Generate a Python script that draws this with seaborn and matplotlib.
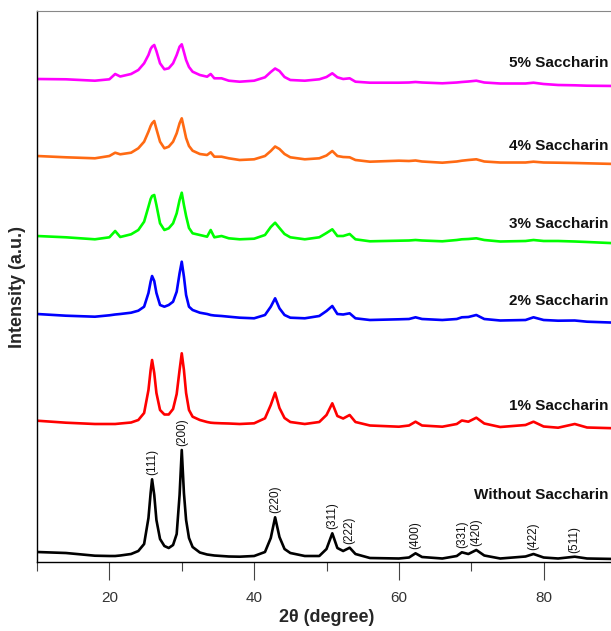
import numpy as np
import pandas as pd
import matplotlib
matplotlib.use("Agg")
import matplotlib.pyplot as plt
from matplotlib.ticker import MultipleLocator
import seaborn as sns

# 2theta grid (degree) shared by all patterns, intensities in a.u. (already stacked)
two_theta = [10, 14, 18, 20, 20.8, 21.5, 23, 24, 24.8, 25.4, 25.7, 25.9, 26.2, 26.5, 27,
             27.6, 28.2, 28.8, 29.3, 29.7, 30.0, 30.3, 30.6, 31.0, 31.5, 32.5, 33.5, 34.0,
             34.5, 35.5, 36.5, 38, 40, 41.5, 42.3, 42.9, 43.5, 44.2, 45, 47, 49, 50.0,
             50.8, 51.5, 52.3, 53.2, 54, 56, 60, 61.4, 62.3, 63.2, 66, 68.0, 68.7, 69.6,
             70.7, 71.8, 74, 77.5, 78.6, 80, 82, 84.3, 86, 90]

i_without = [10, 9, 6.3, 6, 6, 6.5, 8, 11, 18, 44, 69, 82.7, 67, 42, 23,
             16, 14, 17, 28, 67, 112, 69, 42, 24, 15, 9.5, 7.5, 7,
             6.5, 6, 5.5, 5.3, 6, 10, 24, 44.7, 25, 13, 9, 6, 6, 13,
             28.7, 14, 11, 14.3, 8, 4, 3.5, 4.5, 8.7, 5, 3.5, 6, 9.7, 8,
             12, 6.5, 3.5, 5.5, 8, 4.5, 3.5, 5.3, 3.5, 3]

i_1pct = [141.3, 139.3, 138, 138, 138, 138.5, 139.5, 142, 149, 172, 192, 202, 189, 169, 152,
          147.5, 147.5, 153, 168, 192, 208.7, 192, 169, 152, 145.3, 142, 140, 139.3,
          139, 138.7, 138.5, 138, 138.7, 143.7, 157, 169.3, 154, 144, 140, 138, 140, 147,
          158.7, 146, 143.5, 147, 140, 136.5, 135.3, 136.5, 140.3, 136.5, 135.3, 138, 141.5, 140.3,
          144.3, 138.5, 135, 137, 140.3, 135.5, 134.3, 138, 134.5, 133.7]

i_2pct = [248, 246.3, 245.3, 246.7, 247.5, 248, 249.3, 251.3, 255.3, 269, 280.3, 286, 281, 269, 257,
          255.3, 257, 260.3, 270.3, 288.7, 300.3, 285.3, 267, 255.3, 252, 249.3, 248, 247,
          246.5, 246, 245.3, 244.3, 243.7, 247, 255.3, 263.7, 253.7, 247, 244.3, 243.7, 246, 251,
          256, 248, 247.5, 248.7, 243.7, 242, 242.7, 243, 244.7, 243, 242, 243, 244.7, 245,
          247, 243, 241.5, 242, 244.7, 242, 241.3, 241.5, 240.3, 239.3]

i_3pct = [326, 324.7, 322.7, 324.7, 331, 325, 327.7, 332, 340.3, 355.3, 363, 366, 367, 357, 338.7,
          332, 333.7, 338.7, 348.7, 362, 369.3, 357, 346, 334, 328.7, 327, 325.3, 332,
          324.7, 326, 323.7, 322.7, 323.3, 327, 335, 339.3, 334, 328, 324.7, 322.7, 324.7, 329,
          332.7, 326, 326, 328, 322.7, 320.7, 321.3, 321.5, 322, 321.5, 320.7, 322, 322.7, 323,
          323.7, 322, 320.5, 321, 322, 321, 321, 320.5, 320, 318.7]

i_4pct = [406, 404.7, 403.7, 406, 409.3, 407.7, 409.3, 413.7, 420.3, 430.3, 436, 438.7, 441, 433, 420.3,
          413.7, 415.3, 420.3, 428.7, 438.7, 443.7, 434, 424, 416, 411.3, 408, 407, 409.7,
          405.3, 405.3, 403.7, 402, 402.7, 406, 411, 415.5, 413, 408, 404.7, 402.7, 403.7, 406.5,
          411, 406, 405, 404.7, 402, 400.3, 401.3, 401, 401.5, 400.5, 399.3, 400.5, 401.3, 402,
          402.7, 400.5, 399.5, 399.5, 400.3, 399.5, 399.3, 399, 398.7, 398]

i_5pct = [483, 482.7, 481.3, 482.7, 488, 485.5, 488, 492, 498.7, 507, 513, 515.3, 517, 511, 498.7,
          492.7, 493.7, 498.7, 507, 515.3, 517.7, 510, 502, 495, 490.3, 487, 485.3, 488,
          483.7, 483.7, 481.3, 480.3, 481.3, 484.7, 490, 493.5, 491, 485, 482, 481.3, 482.7, 485,
          488.7, 484.7, 483, 483.7, 480.3, 479.3, 479.3, 479.5, 480, 479.5, 478.7, 479.5, 480, 480.5,
          481.3, 479.5, 478.5, 478.5, 479.3, 478, 477, 476.7, 476.3, 476]

samples = ["Without Saccharin", "1% Saccharin", "2% Saccharin",
           "3% Saccharin", "4% Saccharin", "5% Saccharin"]
colors = ["#000000", "#FF0000", "#0000FF", "#00FF00", "#FF6A13", "#FF00FF"]

hkl_labels = ["(111)", "(200)", "(220)", "(311)", "(222)",
              "(400)", "(331)", "(420)", "(422)", "(511)"]
hkl_pos = [25.9, 30.0, 42.9, 50.8, 53.2, 62.3, 68.7, 70.7, 78.6, 84.3]

# vertical placement of the sample names (layout)
name_y = [67, 156, 261, 338, 416, 499]

series = [i_without, i_1pct, i_2pct, i_3pct, i_4pct, i_5pct]
df = pd.concat([pd.DataFrame({"two_theta": two_theta, "intensity": vals, "sample": name})
                for name, vals in zip(samples, series)], ignore_index=True)

sns.set_style("white")
plt.rcParams["font.family"] = ["Liberation Sans", "DejaVu Sans"]

fig = plt.figure(figsize=(6.11, 6.31), dpi=100)
ax = fig.add_axes([37 / 611, 69 / 631, 579 / 611, 551 / 631])

sns.lineplot(data=df, x="two_theta", y="intensity", hue="sample", hue_order=samples,
             palette=dict(zip(samples, colors)), estimator=None, sort=True,
             linewidth=1.9, legend=False, ax=ax)

# Miller indices over the bare pattern
for lab, pos in zip(hkl_labels, hkl_pos):
    peak = np.interp(pos, two_theta, i_without)
    ax.annotate(lab, (pos, peak), xytext=(0, 3), textcoords="offset points",
                rotation=90, ha="center", va="bottom", fontsize=8.5, color="#111111")

for name, y in zip(samples, name_y):
    ax.text(88.9, y, name, ha="right", va="center", fontsize=11, fontweight="bold",
            color="#111111")

ax.set_xlim(10, 90)
ax.set_ylim(0, 551)
ax.set_yticks([])
ax.xaxis.set_major_locator(MultipleLocator(20))
ax.xaxis.set_minor_locator(MultipleLocator(10))
ax.tick_params(axis="x", which="major", length=13, width=0.8, color="#444444",
               direction="out", labelsize=11, labelcolor="#333333", pad=8, bottom=True)
ax.tick_params(axis="x", which="minor", length=6.5, width=0.8, color="#444444",
               direction="out", bottom=True)
ax.set_xlabel("2θ (degree)", fontsize=13, fontweight="bold", labelpad=3)
ax.set_ylabel("Intensity (a.u.)", fontsize=13, fontweight="bold", labelpad=8)

for side in ["left", "bottom"]:
    ax.spines[side].set_color("black")
    ax.spines[side].set_linewidth(1.0)
ax.spines["top"].set_color("#888888")
ax.spines["top"].set_linewidth(0.8)
ax.spines["right"].set_visible(False)

fig.savefig("out.png", dpi=100)
